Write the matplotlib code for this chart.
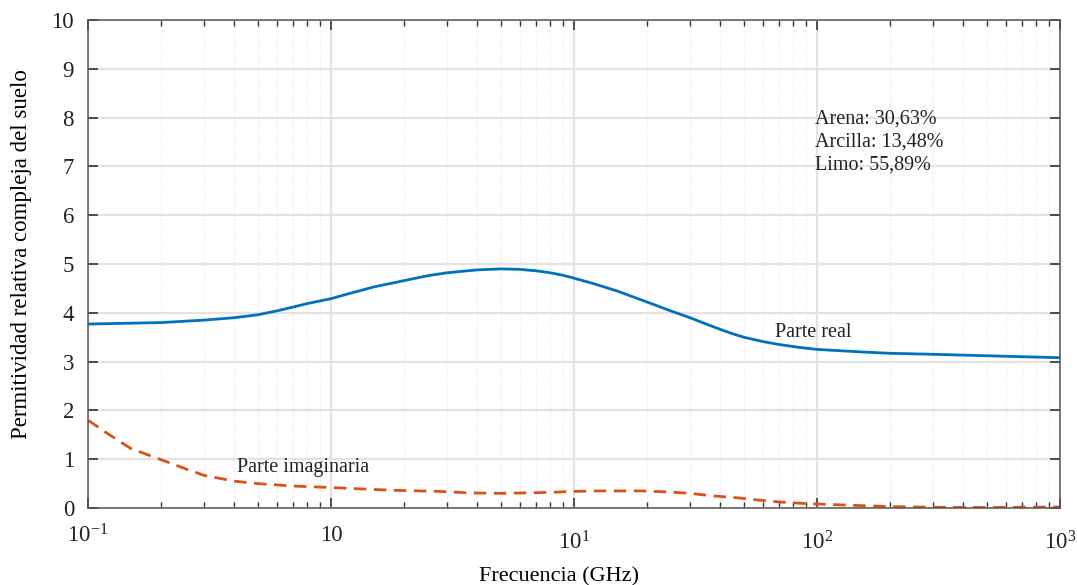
import numpy as np
import matplotlib
matplotlib.use("Agg")
from matplotlib import pyplot as plt
from matplotlib import ticker
from matplotlib.transforms import ScaledTranslation

plt.rcParams["font.family"] = ["Liberation Serif", "DejaVu Serif"]
plt.rcParams["mathtext.fontset"] = "custom"
plt.rcParams["mathtext.rm"] = "Liberation Serif"
plt.rcParams["mathtext.it"] = "Liberation Serif:italic"

# data (frequency in GHz)
freq_real = [0.1, 0.2, 0.3, 0.4, 0.5, 0.6, 0.7, 0.8, 1, 1.2, 1.5, 2, 2.5, 3, 4, 5, 6,
             7, 8, 9, 10, 12, 15, 20, 25, 30, 35, 40, 45, 50, 60, 70, 85, 100, 150,
             200, 300, 500, 700, 1000]
real_part = [3.77, 3.80, 3.85, 3.90, 3.96, 4.04, 4.12, 4.19, 4.29, 4.40, 4.53, 4.66,
             4.76, 4.82, 4.88, 4.90, 4.89, 4.86, 4.82, 4.77, 4.71, 4.60, 4.45, 4.22,
             4.04, 3.90, 3.77, 3.66, 3.57, 3.50, 3.41, 3.35, 3.29, 3.25, 3.20, 3.17,
             3.15, 3.12, 3.10, 3.08]

freq_imag = [0.1, 0.12, 0.15, 0.2, 0.25, 0.3, 0.4, 0.5, 0.7, 1, 1.5, 1.9, 2.8, 3.7,
             5.0, 6.3, 8.0, 9.9, 12.6, 15.5, 19.2, 24.2, 30, 37, 47, 58, 72, 91,
             150, 200, 300, 500, 1000]
imag_part = [1.80, 1.53, 1.22, 0.99, 0.81, 0.67, 0.55, 0.50, 0.45, 0.42, 0.38, 0.36,
             0.34, 0.31, 0.30, 0.31, 0.32, 0.34, 0.35, 0.35, 0.35, 0.33, 0.30, 0.25,
             0.21, 0.16, 0.12, 0.09, 0.05, 0.03, 0.015, 0.01, 0.02]

x_ticks = [0.1, 1, 10, 100, 1000]
x_tick_labels = [r"$10^{-1}$", "10", r"$10^{1}$", r"$10^{2}$", r"$10^{3}$"]
soil_text = ["Arena: 30,63%", "Arcilla: 13,48%", "Limo: 55,89%"]

fig = plt.figure(figsize=(10.77, 5.85), dpi=100)
ax = fig.add_axes([0.0817, 0.1316, 0.9025, 0.8342])

ax.plot(freq_real, real_part, color="#0072BD", linewidth=2.0, solid_capstyle="round")
ax.plot(freq_imag, imag_part, color="#D95319", linewidth=2.0, dashes=(4.5, 2.7))

ax.set_xscale("log")
ax.set_xlim(0.1, 1000)
ax.set_ylim(0, 10)
ax.set_yticks(range(0, 11))
ax.set_xticks(x_ticks)
ax.set_xticklabels(x_tick_labels)
ax.xaxis.set_minor_locator(ticker.LogLocator(base=10, subs=np.arange(2, 10)))
ax.xaxis.set_minor_formatter(ticker.NullFormatter())

ax.grid(True, which="major", color="#e3e3e3", linewidth=1.6)
ax.grid(True, which="minor", axis="x", color="#e6e6e6", linewidth=0.9, linestyle=":")
ax.set_axisbelow(True)

ax.tick_params(which="both", direction="in", top=True, right=True, colors="#333333",
               labelcolor="#222222")
ax.tick_params(which="major", length=7, width=1.2, labelsize=16.5)
ax.tick_params(axis="x", pad=12)
ax.tick_params(axis="y", pad=10)
ax.tick_params(which="minor", length=4, width=1.0)
for s in ax.spines.values():
    s.set_color("#555555")
    s.set_linewidth(1.1)

# upper decade labels sit a bit lower in the reference
for lab in ax.get_xticklabels()[2:]:
    lab.set_transform(lab.get_transform() + ScaledTranslation(0, -7 / 100, fig.dpi_scale_trans))

ax.set_xlabel("Frecuencia (GHz)", fontsize=16)
ax.xaxis.label.set_va("center")
ax.xaxis.set_label_coords(0.485, -0.141)
ax.set_ylabel("Permitividad relativa compleja del suelo", fontsize=16.5)
ax.yaxis.label.set_va("center")
ax.yaxis.set_label_coords(-0.068, 0.52)

ax.text(98, 8.17, "\n".join(soil_text), fontsize=14.5, va="top", ha="left",
        linespacing=1.3, color="#222222")
ax.text(67, 3.6, "Parte real", fontsize=14.5, va="center", ha="left", color="#222222")
ax.text(0.41, 0.84, "Parte imaginaria", fontsize=14.5, va="center", ha="left", color="#222222")

fig.savefig("out.png", dpi=100)
